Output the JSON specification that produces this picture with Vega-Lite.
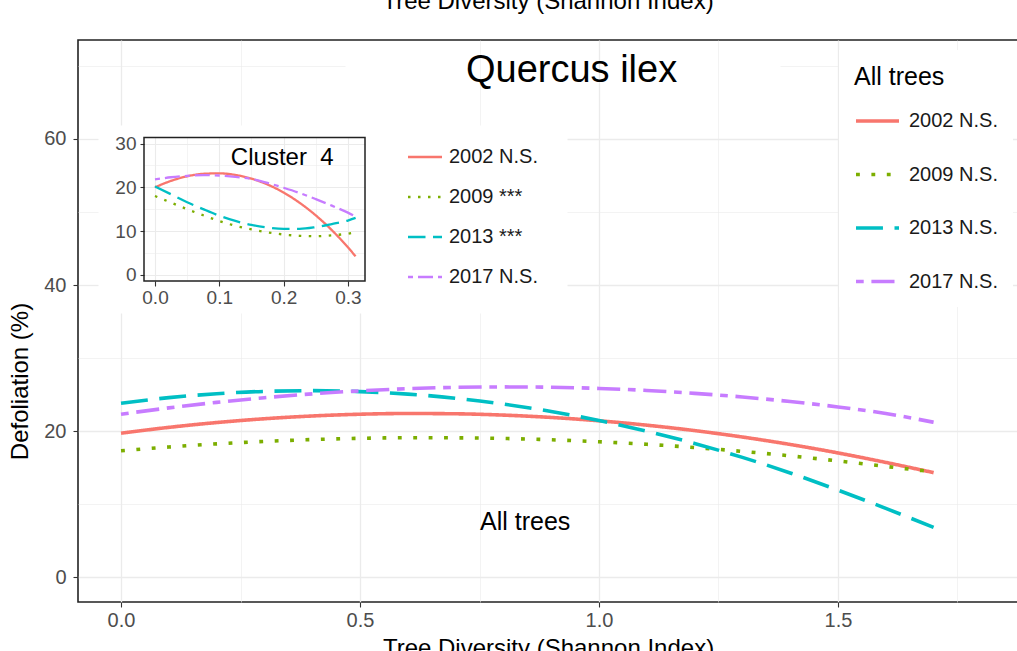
{
  "$schema": "https://vega.github.io/schema/vega-lite/v6.json",
  "width": 940,
  "height": 562,
  "autosize": {"type": "none"},
  "padding": {"left": 78, "top": 40, "right": 0, "bottom": 49},
  "background": "white",
  "config": {
    "font": "Liberation Sans",
    "view": {"stroke": "#222222", "strokeWidth": 1.6},
    "axis": {
      "labelFont": "Liberation Sans", "titleFont": "Liberation Sans",
      "labelColor": "#4D4D4D", "labelFontSize": 20,
      "tickColor": "#333333", "tickSize": 5, "tickWidth": 1.1,
      "domain": false, "gridColor": "#EBEBEB",
      "titleFontWeight": "normal", "titleColor": "#000000", "titleFontSize": 24,
      "labelOverlap": false, "labelFlush": false, "labelBound": false
    },
    "legend": {"labelFont": "Liberation Sans", "titleFont": "Liberation Sans"}
  },
  "datasets": {
    "main": [
      {"x":0,"y":19.7,"s":"2002 N.S."},{"x":0.1,"y":20.5,"s":"2002 N.S."},{"x":0.2,"y":21.16,"s":"2002 N.S."},{"x":0.3,"y":21.68,"s":"2002 N.S."},{"x":0.4,"y":22.06,"s":"2002 N.S."},{"x":0.5,"y":22.3,"s":"2002 N.S."},{"x":0.6,"y":22.4,"s":"2002 N.S."},{"x":0.7,"y":22.36,"s":"2002 N.S."},{"x":0.8,"y":22.18,"s":"2002 N.S."},{"x":0.9,"y":21.86,"s":"2002 N.S."},{"x":1.0,"y":21.4,"s":"2002 N.S."},{"x":1.1,"y":20.8,"s":"2002 N.S."},{"x":1.2,"y":20.06,"s":"2002 N.S."},{"x":1.3,"y":19.18,"s":"2002 N.S."},{"x":1.4,"y":18.16,"s":"2002 N.S."},{"x":1.5,"y":17.0,"s":"2002 N.S."},{"x":1.6,"y":15.7,"s":"2002 N.S."},{"x":1.7,"y":14.3,"s":"2002 N.S."},
      {"x":0,"y":17.3,"s":"2009 N.S."},{"x":0.1,"y":17.81,"s":"2009 N.S."},{"x":0.2,"y":18.24,"s":"2009 N.S."},{"x":0.3,"y":18.58,"s":"2009 N.S."},{"x":0.4,"y":18.83,"s":"2009 N.S."},{"x":0.5,"y":19.0,"s":"2009 N.S."},{"x":0.6,"y":19.08,"s":"2009 N.S."},{"x":0.7,"y":19.07,"s":"2009 N.S."},{"x":0.8,"y":18.98,"s":"2009 N.S."},{"x":0.9,"y":18.8,"s":"2009 N.S."},{"x":1.0,"y":18.53,"s":"2009 N.S."},{"x":1.1,"y":18.18,"s":"2009 N.S."},{"x":1.2,"y":17.74,"s":"2009 N.S."},{"x":1.3,"y":17.21,"s":"2009 N.S."},{"x":1.4,"y":16.6,"s":"2009 N.S."},{"x":1.5,"y":15.9,"s":"2009 N.S."},{"x":1.6,"y":15.15,"s":"2009 N.S."},{"x":1.7,"y":14.4,"s":"2009 N.S."},
      {"x":0,"y":23.8,"s":"2013 N.S."},{"x":0.1,"y":24.57,"s":"2013 N.S."},{"x":0.2,"y":25.11,"s":"2013 N.S."},{"x":0.3,"y":25.43,"s":"2013 N.S."},{"x":0.4,"y":25.53,"s":"2013 N.S."},{"x":0.5,"y":25.4,"s":"2013 N.S."},{"x":0.6,"y":25.06,"s":"2013 N.S."},{"x":0.7,"y":24.49,"s":"2013 N.S."},{"x":0.8,"y":23.69,"s":"2013 N.S."},{"x":0.9,"y":22.68,"s":"2013 N.S."},{"x":1.0,"y":21.44,"s":"2013 N.S."},{"x":1.1,"y":19.98,"s":"2013 N.S."},{"x":1.2,"y":18.3,"s":"2013 N.S."},{"x":1.3,"y":16.39,"s":"2013 N.S."},{"x":1.4,"y":14.26,"s":"2013 N.S."},{"x":1.5,"y":11.91,"s":"2013 N.S."},{"x":1.6,"y":9.4,"s":"2013 N.S."},{"x":1.7,"y":6.8,"s":"2013 N.S."},
      {"x":0,"y":22.3,"s":"2017 N.S."},{"x":0.1,"y":23.17,"s":"2017 N.S."},{"x":0.2,"y":23.92,"s":"2017 N.S."},{"x":0.3,"y":24.56,"s":"2017 N.S."},{"x":0.4,"y":25.09,"s":"2017 N.S."},{"x":0.5,"y":25.5,"s":"2017 N.S."},{"x":0.6,"y":25.8,"s":"2017 N.S."},{"x":0.7,"y":25.98,"s":"2017 N.S."},{"x":0.8,"y":26.04,"s":"2017 N.S."},{"x":0.9,"y":26.0,"s":"2017 N.S."},{"x":1.0,"y":25.83,"s":"2017 N.S."},{"x":1.1,"y":25.56,"s":"2017 N.S."},{"x":1.2,"y":25.16,"s":"2017 N.S."},{"x":1.3,"y":24.66,"s":"2017 N.S."},{"x":1.4,"y":24.04,"s":"2017 N.S."},{"x":1.5,"y":23.3,"s":"2017 N.S."},{"x":1.6,"y":22.4,"s":"2017 N.S."},{"x":1.7,"y":21.2,"s":"2017 N.S."}
    ],
    "inset": [
      {"x":0,"y":20.0,"s":"2002 N.S."},{"x":0.025,"y":21.48,"s":"2002 N.S."},{"x":0.05,"y":22.52,"s":"2002 N.S."},{"x":0.075,"y":23.09,"s":"2002 N.S."},{"x":0.1,"y":23.2,"s":"2002 N.S."},{"x":0.125,"y":22.83,"s":"2002 N.S."},{"x":0.15,"y":21.98,"s":"2002 N.S."},{"x":0.175,"y":20.64,"s":"2002 N.S."},{"x":0.2,"y":18.8,"s":"2002 N.S."},{"x":0.225,"y":16.45,"s":"2002 N.S."},{"x":0.25,"y":13.58,"s":"2002 N.S."},{"x":0.275,"y":10.2,"s":"2002 N.S."},{"x":0.3,"y":6.27,"s":"2002 N.S."},{"x":0.312,"y":4.2,"s":"2002 N.S."},
      {"x":0,"y":18.0,"s":"2009 ***"},{"x":0.025,"y":16.5,"s":"2009 ***"},{"x":0.05,"y":15.0,"s":"2009 ***"},{"x":0.075,"y":13.6,"s":"2009 ***"},{"x":0.1,"y":12.3,"s":"2009 ***"},{"x":0.125,"y":11.2,"s":"2009 ***"},{"x":0.15,"y":10.4,"s":"2009 ***"},{"x":0.175,"y":9.7,"s":"2009 ***"},{"x":0.2,"y":9.2,"s":"2009 ***"},{"x":0.225,"y":8.9,"s":"2009 ***"},{"x":0.25,"y":8.8,"s":"2009 ***"},{"x":0.275,"y":9.0,"s":"2009 ***"},{"x":0.3,"y":9.4,"s":"2009 ***"},{"x":0.312,"y":9.7,"s":"2009 ***"},
      {"x":0,"y":20.2,"s":"2013 ***"},{"x":0.025,"y":18.4,"s":"2013 ***"},{"x":0.05,"y":16.6,"s":"2013 ***"},{"x":0.075,"y":15.0,"s":"2013 ***"},{"x":0.1,"y":13.5,"s":"2013 ***"},{"x":0.125,"y":12.3,"s":"2013 ***"},{"x":0.15,"y":11.4,"s":"2013 ***"},{"x":0.175,"y":10.8,"s":"2013 ***"},{"x":0.2,"y":10.5,"s":"2013 ***"},{"x":0.225,"y":10.5,"s":"2013 ***"},{"x":0.25,"y":10.9,"s":"2013 ***"},{"x":0.275,"y":11.6,"s":"2013 ***"},{"x":0.3,"y":12.4,"s":"2013 ***"},{"x":0.312,"y":13.0,"s":"2013 ***"},
      {"x":0,"y":21.8,"s":"2017 N.S."},{"x":0.025,"y":22.3,"s":"2017 N.S."},{"x":0.05,"y":22.6,"s":"2017 N.S."},{"x":0.075,"y":22.8,"s":"2017 N.S."},{"x":0.1,"y":22.7,"s":"2017 N.S."},{"x":0.125,"y":22.4,"s":"2017 N.S."},{"x":0.15,"y":21.9,"s":"2017 N.S."},{"x":0.175,"y":21.0,"s":"2017 N.S."},{"x":0.2,"y":19.9,"s":"2017 N.S."},{"x":0.225,"y":18.7,"s":"2017 N.S."},{"x":0.25,"y":17.3,"s":"2017 N.S."},{"x":0.275,"y":15.8,"s":"2017 N.S."},{"x":0.3,"y":14.2,"s":"2017 N.S."},{"x":0.312,"y":13.3,"s":"2017 N.S."}
    ]
  },
  "resolve": {"scale": {"x": "independent", "y": "independent", "color": "independent", "strokeDash": "independent"}},
  "layer": [
    {
      "data": {"values": [{}]},
      "mark": {"type": "point", "opacity": 0},
      "encoding": {
        "x": {"datum": 0, "type": "quantitative", "scale": {"domain": [0, 1], "range": [0, 20]}, "axis": null},
        "y": {"datum": 0, "type": "quantitative", "scale": {"domain": [-3.42, 73.56], "nice": false, "zero": false},
          "axis": {"orient": "left", "values": [40, 50, 60], "grid": true, "labels": false, "ticks": false, "domain": false, "title": null,
            "gridWidth": {"condition": {"test": "datum.value % 20 == 0", "value": 1.3}, "value": 0.6}}}
      }
    },
    {
      "data": {"values": [{}]},
      "mark": {"type": "point", "opacity": 0},
      "encoding": {
        "x": {"datum": 0, "type": "quantitative", "scale": {"domain": [0, 1], "range": [489, 940]}, "axis": null},
        "y": {"datum": 0, "type": "quantitative", "scale": {"domain": [-3.42, 73.56], "nice": false, "zero": false},
          "axis": {"orient": "left", "values": [40, 50, 60], "grid": true, "labels": false, "ticks": false, "domain": false, "title": null,
            "gridWidth": {"condition": {"test": "datum.value % 20 == 0", "value": 1.3}, "value": 0.6}}}
      }
    },
    {
      "data": {"values": [{}]},
      "mark": {"type": "point", "opacity": 0},
      "encoding": {
        "x": {"datum": 0, "type": "quantitative", "scale": {"domain": [0, 1], "range": [0, 267]}, "axis": null},
        "y": {"datum": 0, "type": "quantitative", "scale": {"domain": [-3.42, 73.56], "nice": false, "zero": false},
          "axis": {"orient": "left", "values": [70], "grid": true, "labels": false, "ticks": false, "domain": false, "title": null, "gridWidth": 0.6}}
      }
    },
    {
      "data": {"values": [{}]},
      "mark": {"type": "point", "opacity": 0},
      "encoding": {
        "x": {"datum": 0, "type": "quantitative", "scale": {"domain": [0, 1], "range": [702, 760]}, "axis": null},
        "y": {"datum": 0, "type": "quantitative", "scale": {"domain": [-3.42, 73.56], "nice": false, "zero": false},
          "axis": {"orient": "left", "values": [70], "grid": true, "labels": false, "ticks": false, "domain": false, "title": null, "gridWidth": 0.6}}
      }
    },
    {
      "data": {"values": [{}]},
      "mark": {"type": "point", "opacity": 0},
      "encoding": {
        "x": {"datum": 0, "type": "quantitative", "scale": {"domain": [-0.09, 1.8766], "nice": false, "zero": false},
          "axis": {"orient": "top", "values": [0, 0.25, 0.75], "grid": true, "labels": false, "ticks": false, "domain": false, "title": null,
            "gridWidth": {"condition": {"test": "(datum.value*4) % 2 == 0", "value": 1.3}, "value": 0.6}}},
        "y": {"datum": 0, "type": "quantitative", "scale": {"domain": [0, 1], "range": [0, 85]}, "axis": null}
      }
    },
    {
      "data": {"values": [{}]},
      "mark": {"type": "point", "opacity": 0},
      "encoding": {
        "x": {"datum": 0, "type": "quantitative", "scale": {"domain": [-0.09, 1.8766], "nice": false, "zero": false},
          "axis": {"orient": "top", "values": [0, 0.25, 0.5, 0.75], "grid": true, "labels": false, "ticks": false, "domain": false, "title": null,
            "gridWidth": {"condition": {"test": "(datum.value*4) % 2 == 0", "value": 1.3}, "value": 0.6}}},
        "y": {"datum": 0, "type": "quantitative", "scale": {"domain": [0, 1], "range": [273, 562]}, "axis": null}
      }
    },
    {
      "data": {"values": [{}]},
      "mark": {"type": "point", "opacity": 0},
      "encoding": {
        "x": {"datum": 0, "type": "quantitative", "scale": {"domain": [-0.0171, 0.3266], "range": [66, 287], "nice": false, "zero": false},
          "axis": {"orient": "top", "values": [0, 0.05, 0.1, 0.15, 0.2, 0.25, 0.3], "grid": true, "labels": false, "ticks": false, "domain": false, "title": null,
            "gridWidth": {"condition": {"test": "round(datum.value*20) % 2 == 0", "value": 1.1}, "value": 0.55}}},
        "y": {"datum": 0, "type": "quantitative", "scale": {"domain": [0, 1], "range": [97.5, 241]}, "axis": null}
      }
    },
    {
      "layer": [
        {
          "data": {"name": "main"},
          "mark": {"type": "line", "strokeWidth": 3.6, "interpolate": "monotone"},
          "encoding": {
            "x": {"field": "x", "type": "quantitative", "scale": {"domain": [-0.09, 1.8766], "nice": false, "zero": false},
              "axis": {"orient": "bottom", "values": [0, 0.25, 0.5, 0.75, 1, 1.25, 1.5, 1.75],
                "labelExpr": "(datum.value*4) % 2 == 0 ? format(datum.value, '.1f') : ''",
                "grid": true,
                "gridOpacity": {"condition": {"test": "datum.value < 1", "value": 0}, "value": 1},
                "gridWidth": {"condition": {"test": "(datum.value*4) % 2 == 0", "value": 1.3}, "value": 0.6},
                "tickOpacity": {"condition": {"test": "(datum.value*4) % 2 == 0", "value": 1}, "value": 0},
                "labelPadding": 3,
                "title": "Tree Diversity (Shannon Index)", "titleY": 34, "titleBaseline": "top"}},
            "y": {"field": "y", "type": "quantitative", "scale": {"domain": [-3.42, 73.56], "nice": false, "zero": false},
              "axis": {"orient": "left", "values": [0, 10, 20, 30, 40, 50, 60],
                "labelExpr": "datum.value % 20 == 0 ? datum.label : ''",
                "grid": true,
                "gridOpacity": {"condition": {"test": "datum.value > 30", "value": 0}, "value": 1},
                "gridWidth": {"condition": {"test": "datum.value % 20 == 0", "value": 1.3}, "value": 0.6},
                "tickOpacity": {"condition": {"test": "datum.value % 20 == 0", "value": 1}, "value": 0},
                "labelPadding": 7,
                "title": "Defoliation (%)", "titleX": -51, "titleY": 341, "titleBaseline": "alphabetic"}},
            "color": {"field": "s", "type": "nominal",
              "scale": {"domain": ["2002 N.S.", "2009 N.S.", "2013 N.S.", "2017 N.S."], "range": ["#F8766D", "#7CAE00", "#00BFC4", "#C77CFF"]},
              "legend": {"title": "All trees", "orient": "none", "legendX": 761, "legendY": 10, "padding": 15, "fillColor": "white",
                "titleFontSize": 25, "titleFontWeight": "normal", "titleColor": "#000000", "titlePadding": 7.5,
                "labelFontSize": 20, "labelColor": "#1A1A1A", "labelOffset": 8, "rowPadding": 19.5,
                "symbolSize": 1849, "symbolStrokeWidth": 3.6, "symbolType": "stroke"}},
            "strokeDash": {"field": "s", "type": "nominal",
              "scale": {"domain": ["2002 N.S.", "2009 N.S.", "2013 N.S.", "2017 N.S."], "range": [[1, 0], [3.85, 11.55], [26.95, 11.55], [7.7, 7.7, 23.1, 7.7]]},
              "legend": {"title": "All trees"}}
          }
        },
        {
          "data": {"values": [{}]},
          "mark": {"type": "text", "text": "Quercus ilex", "fontSize": 38, "align": "left", "baseline": "alphabetic", "color": "#000000"},
          "encoding": {"x": {"datum": 0.7217, "type": "quantitative"}, "y": {"datum": 67.85, "type": "quantitative"}}
        },
        {
          "data": {"values": [{}]},
          "mark": {"type": "text", "text": "All trees", "fontSize": 25, "align": "left", "baseline": "alphabetic", "color": "#000000"},
          "encoding": {"x": {"datum": 0.751, "type": "quantitative"}, "y": {"datum": 6.44, "type": "quantitative"}}
        },
        {
          "data": {"values": [{}]},
          "mark": {"type": "text", "text": "Tree Diversity (Shannon Index)", "fontSize": 24, "align": "center", "baseline": "alphabetic", "color": "#000000"},
          "encoding": {"x": {"datum": 0.8933, "type": "quantitative"}, "y": {"datum": 77.81, "type": "quantitative"}}
        }
      ]
    },
    {
      "layer": [
        {
          "data": {"name": "inset"},
          "mark": {"type": "line", "strokeWidth": 2.3, "interpolate": "monotone"},
          "encoding": {
            "x": {"field": "x", "type": "quantitative", "scale": {"domain": [-0.0171, 0.3266], "range": [66, 287], "nice": false, "zero": false},
              "axis": {"orient": "bottom", "offset": -321, "values": [0, 0.05, 0.1, 0.15, 0.2, 0.25, 0.3],
                "labelExpr": "round(datum.value*20) % 2 == 0 ? format(datum.value, '.1f') : ''",
                "tickOpacity": {"condition": {"test": "round(datum.value*20) % 2 == 0", "value": 1}, "value": 0},
                "grid": false, "title": null, "labelFontSize": 19, "labelPadding": 2, "tickSize": 5}},
            "y": {"field": "y", "type": "quantitative", "scale": {"domain": [-1.44, 31.4], "range": [241, 97.5], "nice": false, "zero": false},
              "axis": {"orient": "left", "offset": -66, "values": [0, 5, 10, 15, 20, 25, 30],
                "labelExpr": "datum.value % 10 == 0 ? datum.label : ''",
                "grid": true,
                "gridWidth": {"condition": {"test": "datum.value % 10 == 0", "value": 1.1}, "value": 0.55},
                "tickOpacity": {"condition": {"test": "datum.value % 10 == 0", "value": 1}, "value": 0},
                "title": null, "labelFontSize": 19, "labelPadding": 4, "tickSize": 4}},
            "color": {"field": "s", "type": "nominal",
              "scale": {"domain": ["2002 N.S.", "2009 ***", "2013 ***", "2017 N.S."], "range": ["#F8766D", "#7CAE00", "#00BFC4", "#C77CFF"]},
              "legend": {"title": null, "orient": "none", "legendX": 328.5, "legendY": 98.5, "padding": 0,
                "labelFontSize": 20, "labelColor": "#1A1A1A", "labelOffset": 5.5, "rowPadding": 11,
                "symbolSize": 1156, "symbolStrokeWidth": 2.3, "symbolType": "stroke"}},
            "strokeDash": {"field": "s", "type": "nominal",
              "scale": {"domain": ["2002 N.S.", "2009 ***", "2013 ***", "2017 N.S."], "range": [[1, 0], [2.5, 7.5], [17.5, 7.5], [5, 5, 15, 5]]},
              "legend": {"title": null}}
          }
        },
        {
          "data": {"values": [{}]},
          "mark": {"type": "rect", "fillOpacity": 0, "stroke": "#222222", "strokeWidth": 1.5},
          "encoding": {
            "x": {"datum": -0.0171, "type": "quantitative"}, "x2": {"datum": 0.3266},
            "y": {"datum": -1.44, "type": "quantitative"}, "y2": {"datum": 31.4}
          }
        },
        {
          "data": {"values": [{}]},
          "mark": {"type": "text", "text": "Cluster \u00a04", "fontSize": 24, "align": "left", "baseline": "alphabetic", "color": "#000000"},
          "encoding": {"x": {"datum": 0.118, "type": "quantitative"}, "y": {"datum": 25.11, "type": "quantitative"}}
        }
      ]
    }
  ]
}
